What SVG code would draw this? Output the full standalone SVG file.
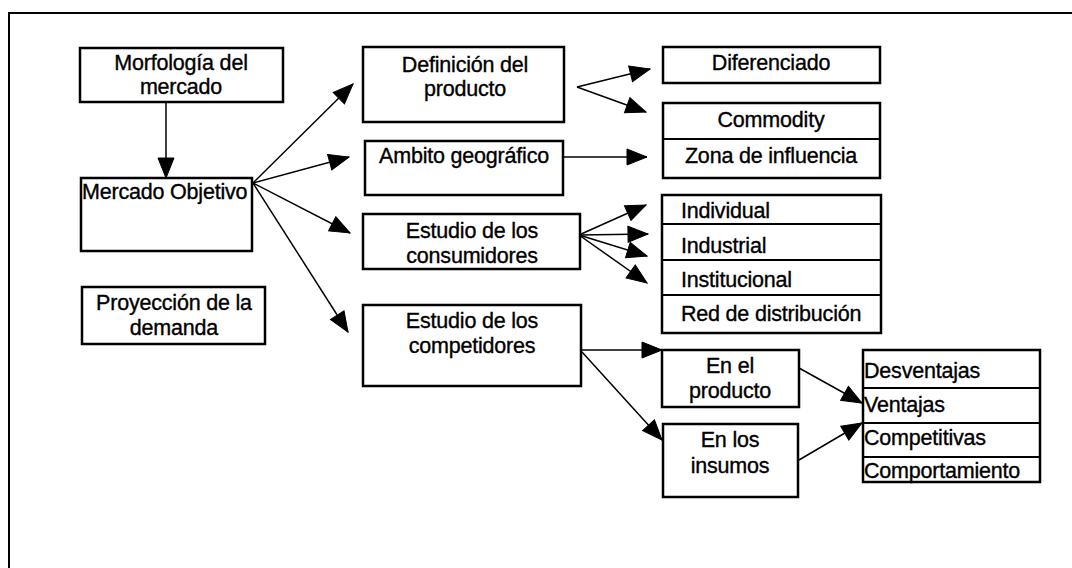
<svg xmlns="http://www.w3.org/2000/svg" width="1072" height="568" viewBox="0 0 1072 568">
<defs>
<marker id="ah" markerUnits="userSpaceOnUse" markerWidth="24" markerHeight="24" refX="20" refY="10" orient="auto" overflow="visible">
<path d="M0,2 L20,10 L0,18 z" style="fill:#000;stroke:#000;stroke-width:1"/>
</marker>
<style>
.b{fill:#fff;stroke:#000;stroke-width:2.5}
.d{stroke:#000;stroke-width:2;fill:none}
.t{font-family:"Liberation Sans",Arial,sans-serif;font-size:21.5px;fill:#000;stroke:#000;stroke-width:0.35;text-anchor:middle;letter-spacing:-0.2px}
.l{text-anchor:start}
.c{stroke:#000;stroke-width:1.5;marker-end:url(#ah)}
</style>
</defs>
<rect width="1072" height="568" fill="#fff"/>
<g id="frame"><path d="M9,568 V13 H1072" stroke="#000" stroke-width="2" fill="none"/></g>
<g id="connectors">
<line class="c" x1="166" y1="102" x2="166" y2="178"/>
<line class="c" x1="253" y1="183" x2="353" y2="84"/>
<line class="c" x1="253" y1="183" x2="349" y2="157"/>
<line class="c" x1="253" y1="183" x2="350" y2="233"/>
<line class="c" x1="253" y1="183" x2="348" y2="332"/>
<line class="c" x1="577" y1="87" x2="650" y2="69"/>
<line class="c" x1="577" y1="87" x2="646" y2="112"/>
<line class="c" x1="563" y1="157" x2="647" y2="157"/>
<line class="c" x1="579" y1="235" x2="646" y2="205"/>
<line class="c" x1="579" y1="235" x2="648" y2="234"/>
<line class="c" x1="579" y1="235" x2="647" y2="256"/>
<line class="c" x1="579" y1="235" x2="647" y2="283"/>
<line class="c" x1="582" y1="350" x2="662" y2="350"/>
<line class="c" x1="582" y1="352" x2="662" y2="440"/>
<line class="c" x1="799" y1="368" x2="862" y2="403"/>
<line class="c" x1="799" y1="460" x2="862" y2="423"/>
</g>
<g id="morfologia"><rect class="b" x="80" y="48" width="203" height="54" stroke-width="3"/><text class="t" x="181" y="70">Morfología del</text><text class="t" x="181" y="94">mercado</text></g>
<g id="mercado-objetivo"><rect class="b" x="81" y="178" width="171" height="73"/><text class="t l" x="82" y="199">Mercado Objetivo</text></g>
<g id="proyeccion"><rect class="b" x="82" y="287" width="183" height="57"/><text class="t" x="174" y="310">Proyección de la</text><text class="t" x="174" y="335">demanda</text></g>
<g id="definicion"><rect class="b" x="363" y="47" width="201" height="75"/><text class="t" x="465" y="72">Definición del</text><text class="t" x="465" y="96">producto</text></g>
<g id="ambito"><rect class="b" x="365" y="141" width="198" height="54"/><text class="t" x="464" y="163">Ambito geográfico</text></g>
<g id="consumidores"><rect class="b" x="363" y="214" width="217" height="55"/><text class="t" x="472" y="238">Estudio de los</text><text class="t" x="472" y="263">consumidores</text></g>
<g id="competidores"><rect class="b" x="363" y="305" width="218" height="81"/><text class="t" x="472" y="328">Estudio de los</text><text class="t" x="472" y="353">competidores</text></g>
<g id="diferenciado"><rect class="b" x="663" y="47" width="217" height="36"/><text class="t" x="771" y="70">Diferenciado</text></g>
<g id="commodity-zona"><rect class="b" x="663" y="103" width="217" height="75"/><line class="d" x1="663" y1="139" x2="880" y2="139" stroke-width="3"/><text class="t" x="771" y="127">Commodity</text><text class="t" x="771" y="163">Zona de influencia</text></g>
<g id="tipos-consumidor"><rect class="b" x="662" y="195" width="219" height="138"/><line class="d" x1="662" y1="224" x2="881" y2="224"/><line class="d" x1="662" y1="260" x2="881" y2="260"/><line class="d" x1="662" y1="295" x2="881" y2="295"/><text class="t l" x="681" y="218">Individual</text><text class="t l" x="681" y="253">Industrial</text><text class="t l" x="681" y="287">Institucional</text><text class="t l" x="681" y="321">Red de distribución</text></g>
<g id="en-el-producto"><rect class="b" x="662" y="350" width="137" height="57"/><text class="t" x="730" y="373">En el</text><text class="t" x="730" y="398">producto</text></g>
<g id="en-los-insumos"><rect class="b" x="663" y="424" width="135" height="73"/><text class="t" x="730" y="447">En los</text><text class="t" x="730" y="473">insumos</text></g>
<g id="ventajas"><rect class="b" x="863" y="350" width="177" height="132"/><line class="d" x1="863" y1="388" x2="1040" y2="388"/><line class="d" x1="863" y1="423" x2="1040" y2="423"/><line class="d" x1="863" y1="457" x2="1040" y2="457"/><text class="t l" x="864" y="378">Desventajas</text><text class="t l" x="864" y="412">Ventajas</text><text class="t l" x="864" y="445">Competitivas</text><text class="t l" x="864" y="478">Comportamiento</text></g>
</svg>
